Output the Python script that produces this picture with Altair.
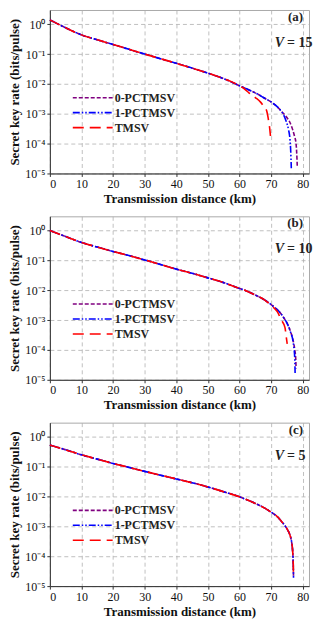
import altair as alt
import pandas as pd

SERIES = ["0-PCTMSV", "1-PCTMSV", "TMSV"]
COLORS = ["#800080", "#0000ff", "#ff0000"]
DASHES = [[4, 2], [7, 2, 1.5, 2, 1.5, 2], [11, 6]]

X_TICKS = [0, 10, 20, 30, 40, 50, 60, 70, 80]
Y_TICKS = [1e-5, 1e-4, 1e-3, 1e-2, 1e-1, 1]

TAGS = ["(a)", "(b)", "(c)"]
V_VALUES = ["15", "10", "5"]

# ---- panel (a): V = 15
A_common_x = [0, 5, 10, 15, 20, 25, 30, 35, 40, 45, 50, 55, 60]
A_common_y = [1.4, 0.76, 0.44, 0.30, 0.21, 0.145, 0.10, 0.07, 0.049, 0.034, 0.023, 0.015, 0.0087]
A_purple_x = [62, 64, 66, 68, 70, 72, 73, 74, 75, 76, 76.8, 77.4, 77.9, 78.1, 78.3]
A_purple_y = [0.0070, 0.0056, 0.0044, 0.0033, 0.0025, 0.0017, 0.0013, 0.001, 7.5e-4, 5e-4, 3e-4, 1.8e-4, 1e-4, 5e-5, 1.6e-5]
A_blue_x = [62, 64, 66, 68, 70, 72, 73, 74, 74.8, 75.5, 76.0, 76.2, 76.4]
A_blue_y = [0.0070, 0.0056, 0.0044, 0.0033, 0.0025, 0.0017, 0.0013, 9e-4, 5.5e-4, 3e-4, 1.3e-4, 6e-5, 1.5e-5]
A_red_x = [61, 62, 63, 65, 66.6, 67.8, 68.6, 69.0, 69.3, 69.6, 69.8]
A_red_y = [0.0075, 0.0062, 0.005, 0.0035, 0.0025, 0.0017, 0.00126, 8e-4, 5e-4, 3e-4, 1.8e-4]

# ---- panel (b): V = 10
B_common_x = [0, 5, 10, 15, 20, 25, 30, 35, 40, 45, 50, 55, 60, 62, 65, 68]
B_common_y = [1.0, 0.63, 0.4, 0.28, 0.2, 0.145, 0.104, 0.073, 0.051, 0.037, 0.026, 0.018, 0.0115, 0.0097, 0.0069, 0.0047]
B_purple_x = [70, 72, 73, 74, 75, 76, 77, 77.5, 77.8, 77.9]
B_purple_y = [0.0033, 0.0022, 0.0017, 0.0012, 8.2e-4, 4.6e-4, 2.0e-4, 1e-4, 5e-5, 2.4e-5]
B_blue_x = [70, 72, 73, 74, 75, 76, 77, 77.3, 77.5, 77.6]
B_blue_y = [0.0033, 0.0022, 0.0017, 0.0012, 8e-4, 4.4e-4, 1.8e-4, 1e-4, 5e-5, 1.7e-5]
B_red_x = [70, 71, 72, 73.1, 74.4, 74.8, 75.1]
B_red_y = [0.0031, 0.0025, 0.0019, 1.07e-3, 5.6e-4, 2.7e-4, 1.6e-4]

# ---- panel (c): V = 5 (all three curves coincide)
C_x = [0, 5, 10, 15, 20, 25, 30, 35, 40, 45, 50, 55, 60, 65, 68, 70, 72, 73, 74, 75, 76, 76.5, 76.8, 77.0, 77.1]
C_y = [0.53, 0.37, 0.25, 0.18, 0.129, 0.095, 0.07, 0.052, 0.039, 0.029, 0.021, 0.0145, 0.0098,
       0.0059, 0.0041, 0.003, 0.0021, 0.0016, 0.0012, 8.4e-4, 5e-4, 3e-4, 1.6e-4, 6e-5, 1.9e-5]


def frame(parts):
    rows = []
    for name, xs, ys in parts:
        for x, y in zip(xs, ys):
            rows.append({"x": x, "y": y, "series": name})
    return pd.DataFrame(rows)


DF_A = frame([
    (SERIES[0], A_common_x + A_purple_x, A_common_y + A_purple_y),
    (SERIES[1], A_common_x + A_blue_x, A_common_y + A_blue_y),
    (SERIES[2], A_common_x + A_red_x, A_common_y + A_red_y),
])
DF_B = frame([
    (SERIES[0], B_common_x + B_purple_x, B_common_y + B_purple_y),
    (SERIES[1], B_common_x + B_blue_x, B_common_y + B_blue_y),
    (SERIES[2], B_common_x + B_red_x, B_common_y + B_red_y),
])
DF_C = frame([(s, C_x, C_y) for s in SERIES])

FONT = "Liberation Serif"
W, H = 260, 164

SUP = "['⁻⁵','⁻⁴','⁻³','⁻²','⁻¹','⁰']"


def panel(df, tag, vval):
    legend = alt.Legend(
        title=None, orient="none", legendX=37, legendY=82,
        symbolType="M-4,0H4", symbolSize=100, symbolStrokeWidth=1.6,
        labelFont=FONT, labelFontWeight="bold", labelFontSize=12,
        labelColor="#222", rowPadding=3, labelOffset=16,
    )
    lines = alt.Chart(df).mark_line(strokeWidth=1.6, interpolate="monotone").encode(
        x=alt.X("x:Q", scale=alt.Scale(domain=[0, 82], nice=False, zero=False),
                axis=alt.Axis(values=X_TICKS, title="Transmission distance (km)")),
        y=alt.Y("y:Q", scale=alt.Scale(type="log", domain=[1e-5, 3], nice=False),
                axis=alt.Axis(values=Y_TICKS, title="Secret key rate (bits/pulse)",
                              labelExpr="'10' + " + SUP + "[round(log(datum.value)/LN10)+5]")),
        color=alt.Color("series:N", scale=alt.Scale(domain=SERIES, range=COLORS), legend=legend),
        strokeDash=alt.StrokeDash("series:N", scale=alt.Scale(domain=SERIES, range=DASHES), legend=legend),
    )
    tag_text = alt.Chart(pd.DataFrame({"t": [tag]})).mark_text(
        font=FONT, fontWeight="bold", fontSize=13, align="right", baseline="middle", color="#222"
    ).encode(text="t:N", x=alt.value(W - 6), y=alt.value(7))
    v_letter = alt.Chart(pd.DataFrame({"t": ["V"]})).mark_text(
        font=FONT, fontWeight="bold", fontStyle="italic", fontSize=14, align="right", baseline="middle", color="#222"
    ).encode(text="t:N", x=alt.value(W - 25), y=alt.value(33))
    v_text = alt.Chart(pd.DataFrame({"t": ["= " + vval]})).mark_text(
        font=FONT, fontWeight="bold", fontSize=14, align="left", baseline="middle", color="#222"
    ).encode(text="t:N", x=alt.value(W - 22), y=alt.value(33))
    return alt.layer(lines, tag_text, v_letter, v_text).properties(width=W, height=H)


chart = alt.vconcat(
    panel(DF_A, TAGS[0], V_VALUES[0]),
    panel(DF_B, TAGS[1], V_VALUES[1]),
    panel(DF_C, TAGS[2], V_VALUES[2]),
    spacing=9,
).resolve_scale(color="independent", strokeDash="independent").resolve_legend(
    color="independent", strokeDash="independent"
).configure_view(stroke="#aaaaaa", strokeWidth=1).configure_axis(
    grid=True, gridColor="#b0b0b0", gridDash=[4, 3], gridWidth=0.8,
    domainColor="#333", tickColor="#333", tickSize=3,
    labelFont=FONT, labelFontSize=12, labelColor="#111", labelPadding=2,
    titleFont=FONT, titleFontSize=13, titleFontWeight="bold", titleColor="#111", titlePadding=3,
).properties(padding=0, background="white")

chart.save("out.html", embed_options={"renderer": "svg", "actions": False})
